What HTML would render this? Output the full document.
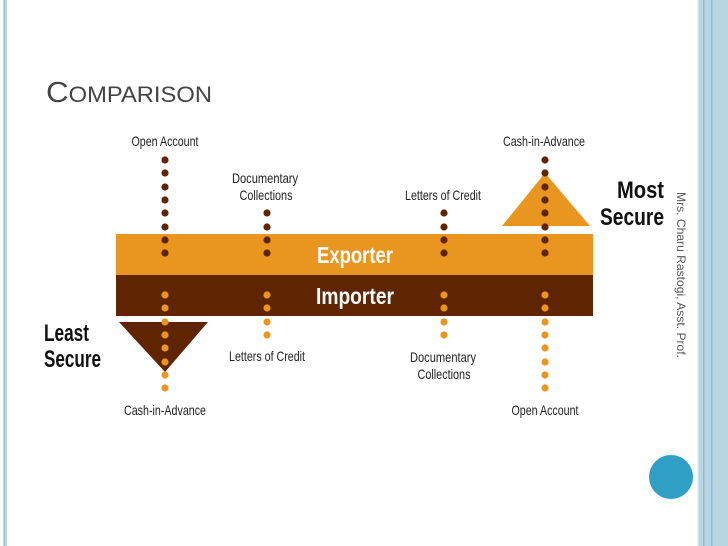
<!DOCTYPE html>
<html><head><meta charset="utf-8"><style>
html,body{margin:0;padding:0;background:#fff;}
svg{display:block;}
</style></head><body>
<svg width="728" height="546" viewBox="0 0 728 546" xmlns="http://www.w3.org/2000/svg">
<rect width="728" height="546" fill="#fff"/>
<rect x="3" y="0" width="4" height="546" fill="#bcd8e6"/>
<rect x="4" y="0" width="1" height="546" fill="#9cc4d8"/>
<rect x="697" y="0" width="31" height="546" fill="#b8d5e2"/>
<rect x="697" y="0" width="1.5" height="546" fill="#e8f2f7"/>
<rect x="703" y="0" width="1.5" height="546" fill="#8fbad0"/>
<rect x="711" y="0" width="1.5" height="546" fill="#8fbad0"/>
<text x="46" y="102" font-family="Liberation Sans, sans-serif" fill="#444" font-size="29" textLength="166" lengthAdjust="spacingAndGlyphs">C<tspan font-size="22">OMPARISON</tspan></text>
<polygon points="545,173 590,226 502,226" fill="#e8961f"/>
<polygon points="119,322 208,322 165,372" fill="#5e2500"/>
<rect x="116" y="234" width="477" height="41" fill="#e8961f"/>
<rect x="116" y="275" width="477" height="41" fill="#5e2500"/>
<g font-family="Liberation Sans, sans-serif" font-weight="bold" fill="#fff" font-size="23" text-anchor="middle">
<text x="355" y="263" textLength="76" lengthAdjust="spacingAndGlyphs">Exporter</text>
<text x="355" y="304" textLength="78" lengthAdjust="spacingAndGlyphs">Importer</text>
</g>
<g fill="#5e2500">
<circle cx="165" cy="160" r="3.6"/><circle cx="165" cy="173" r="3.6"/><circle cx="165" cy="187" r="3.6"/><circle cx="165" cy="200" r="3.6"/><circle cx="165" cy="213" r="3.6"/><circle cx="165" cy="227" r="3.6"/><circle cx="165" cy="240" r="3.6"/><circle cx="165" cy="253" r="3.6"/>
<circle cx="267" cy="213" r="3.6"/><circle cx="267" cy="227" r="3.6"/><circle cx="267" cy="240" r="3.6"/><circle cx="267" cy="253" r="3.6"/>
<circle cx="444" cy="213" r="3.6"/><circle cx="444" cy="227" r="3.6"/><circle cx="444" cy="240" r="3.6"/><circle cx="444" cy="253" r="3.6"/>
<circle cx="545" cy="160" r="3.6"/><circle cx="545" cy="173" r="3.6"/><circle cx="545" cy="187" r="3.6"/><circle cx="545" cy="200" r="3.6"/><circle cx="545" cy="213" r="3.6"/><circle cx="545" cy="227" r="3.6"/><circle cx="545" cy="240" r="3.6"/><circle cx="545" cy="253" r="3.6"/>
</g>
<g fill="#e8961f">
<circle cx="165" cy="295" r="3.6"/><circle cx="165" cy="308" r="3.6"/><circle cx="165" cy="322" r="3.6"/><circle cx="165" cy="335" r="3.6"/><circle cx="165" cy="348" r="3.6"/><circle cx="165" cy="362" r="3.6"/><circle cx="165" cy="375" r="3.6"/><circle cx="165" cy="388" r="3.6"/>
<circle cx="267" cy="295" r="3.6"/><circle cx="267" cy="308" r="3.6"/><circle cx="267" cy="322" r="3.6"/><circle cx="267" cy="335" r="3.6"/>
<circle cx="444" cy="295" r="3.6"/><circle cx="444" cy="308" r="3.6"/><circle cx="444" cy="322" r="3.6"/><circle cx="444" cy="335" r="3.6"/>
<circle cx="545" cy="295" r="3.6"/><circle cx="545" cy="308" r="3.6"/><circle cx="545" cy="322" r="3.6"/><circle cx="545" cy="335" r="3.6"/><circle cx="545" cy="348" r="3.6"/><circle cx="545" cy="362" r="3.6"/><circle cx="545" cy="375" r="3.6"/><circle cx="545" cy="388" r="3.6"/>
</g>
<g font-family="Liberation Sans, sans-serif" fill="#222" font-size="14" text-anchor="middle">
<text x="165" y="146" textLength="67" lengthAdjust="spacingAndGlyphs">Open Account</text>
<text x="265" y="183" textLength="66" lengthAdjust="spacingAndGlyphs">Documentary</text>
<text x="266" y="200" textLength="53" lengthAdjust="spacingAndGlyphs">Collections</text>
<text x="443" y="200" textLength="76" lengthAdjust="spacingAndGlyphs">Letters of Credit</text>
<text x="544" y="146" textLength="82" lengthAdjust="spacingAndGlyphs">Cash-in-Advance</text>
<text x="267" y="361" textLength="76" lengthAdjust="spacingAndGlyphs">Letters of Credit</text>
<text x="443" y="362" textLength="66" lengthAdjust="spacingAndGlyphs">Documentary</text>
<text x="444" y="379" textLength="53" lengthAdjust="spacingAndGlyphs">Collections</text>
<text x="165" y="415" textLength="82" lengthAdjust="spacingAndGlyphs">Cash-in-Advance</text>
<text x="545" y="415" textLength="67" lengthAdjust="spacingAndGlyphs">Open Account</text>
</g>
<g font-family="Liberation Sans, sans-serif" font-weight="bold" fill="#111" font-size="24">
<text x="664" y="198" text-anchor="end" textLength="47" lengthAdjust="spacingAndGlyphs">Most</text>
<text x="664" y="225" text-anchor="end" textLength="64" lengthAdjust="spacingAndGlyphs">Secure</text>
<text x="44" y="341" textLength="45" lengthAdjust="spacingAndGlyphs">Least</text>
<text x="44" y="367" textLength="57" lengthAdjust="spacingAndGlyphs">Secure</text>
</g>
<text transform="translate(677,192) rotate(90)" font-family="Liberation Sans, sans-serif" fill="#555" font-size="12" textLength="166" lengthAdjust="spacingAndGlyphs">Mrs. Charu Rastogi, Asst. Prof.</text>
<circle cx="671" cy="477" r="22" fill="#2fa0c4"/>
</svg>
</body></html>
